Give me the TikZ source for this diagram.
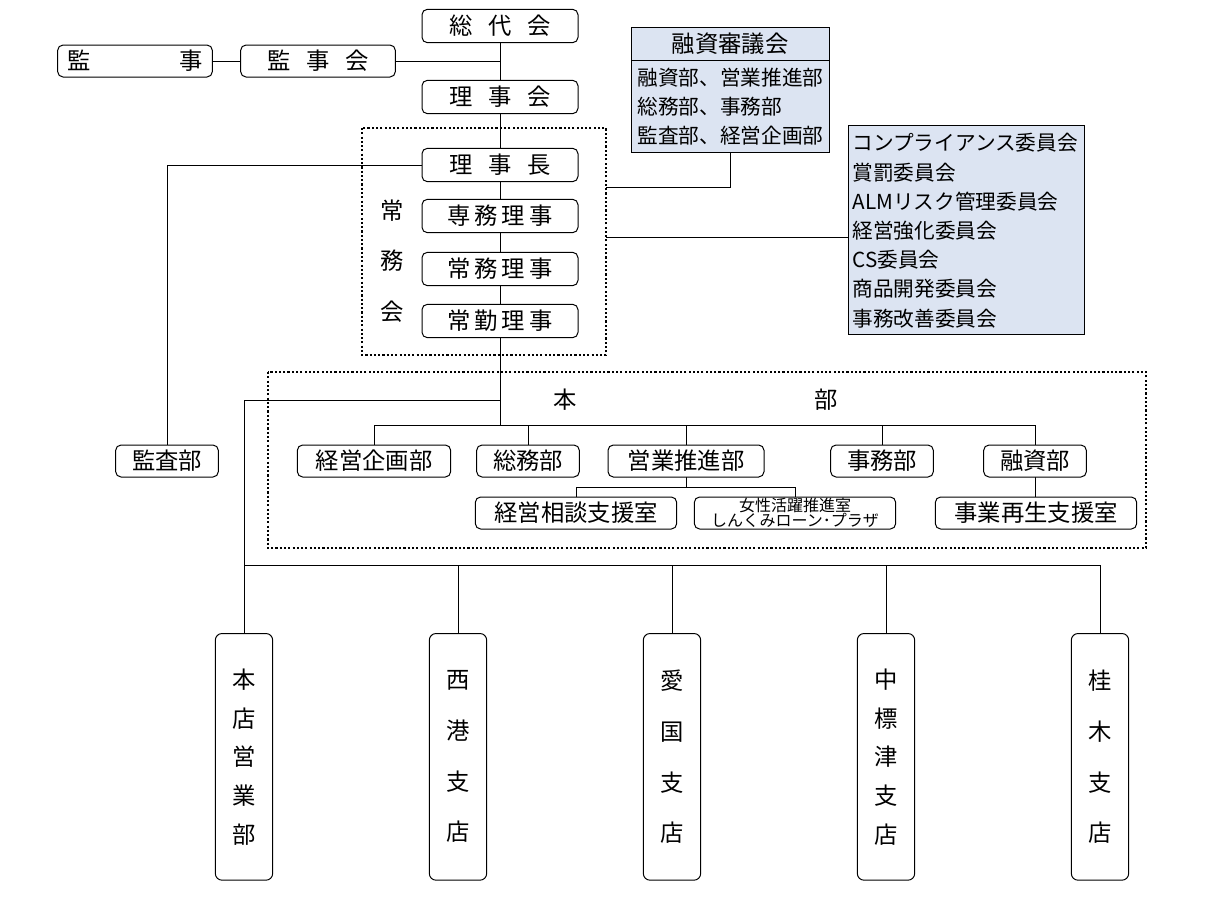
\documentclass[tikz,border=0pt]{standalone}
\usepackage{fontspec}
\setmainfont{Noto Sans CJK JP}
\tikzset{every picture/.style={line width=0.75pt}}
\tikzset{
  post/.style={draw,rounded corners=4pt,minimum height=25pt,inner sep=0pt,font=\fontsize{17.5}{19}\selectfont},
  dept/.style={post,minimum height=24pt},
  branch/.style={draw,rounded corners=5pt,minimum width=43pt,minimum height=185pt,inner sep=0pt,font=\fontsize{17.5}{29}\selectfont,align=center},
  frame/.style={draw,line width=2.2pt,dash pattern=on 1.6pt off 1.6pt},
  panel/.style={draw,fill={rgb,255:red,220;green,228;blue,242}},
  listtext/.style={anchor=west,inner sep=0pt,font=\fontsize{15.5}{17}\selectfont},
}
\begin{document}
\begin{tikzpicture}[x=0.75pt,y=0.75pt,yscale=-1,xscale=1]
	\useasboundingbox (0,0) rectangle (1229,901);

	% Frames
	\draw [frame] (362,128) rectangle (606,355);
	\draw [frame] (268,372) rectangle (1146,548);

	% Lines behind boxes
	\draw (500,26) -- (500,425);
	\draw (395,61) -- (500,61);
	\draw (213,61) -- (240,61);
	\draw (500,400) -- (244,400) -- (244,633);
	\draw (422,165) -- (167,165) -- (167,445);
	\draw (606,187) -- (730,187) -- (730,152);
	\draw (606,237) -- (848,237);
	\draw (374,445) -- (374,425) -- (1035,425) -- (1035,445);
	\foreach \x in {528,686,882} \draw (\x,425) -- (\x,445);
	\draw (686,477) -- (686,487);
	\draw (576,497) -- (576,487) -- (795,487) -- (795,497);
	\draw (1035,477) -- (1035,497);
	\draw (244,565) -- (1100,565);
	\foreach \x in {458,672,886,1100} \draw (\x,565) -- (\x,633);

	% Top posts
	\node [post,fill=white,minimum width=117pt] (sodaikai) at (500,26) {総\hspace{12pt}代\hspace{12pt}会};
	\node [post,fill=white,minimum width=116pt,minimum height=24pt] (kanji) at (135,61) {監\hspace{66pt}事};
	\node [post,fill=white,minimum width=116pt,minimum height=24pt] (kanjikai) at (318,61) {監\hspace{12pt}事\hspace{12pt}会};
	\node [post,fill=white,minimum width=117pt] (rijikai) at (500,97) {理\hspace{12pt}事\hspace{12pt}会};
	\node [post,fill=white,minimum width=117pt] (rijicho) at (500,165) {理\hspace{12pt}事\hspace{12pt}長};
	\node [post,fill=white,minimum width=117pt] (senmu) at (500,216) {専\hspace{3pt}務\hspace{3pt}理\hspace{3pt}事};
	\node [post,fill=white,minimum width=117pt] (jomu) at (500,269) {常\hspace{3pt}務\hspace{3pt}理\hspace{3pt}事};
	\node [post,fill=white,minimum width=117pt] (jokin) at (500,321) {常\hspace{3pt}勤\hspace{3pt}理\hspace{3pt}事};
	\node [font=\fontsize{17.5}{38}\selectfont,align=center] (jomukai) at (392,261) {常\\務\\会};

	% Yushi shingikai
	\draw [panel] (631,27) rectangle (829,152);
	\draw (631,60) -- (829,60);
	\node [font=\fontsize{17.5}{19}\selectfont] (shingi) at (730,44) {融資審議会};
	\node [listtext] (shingia) at (637,78) {融資部、営業推進部};
	\node [listtext] (shingib) at (637,107) {総務部、事務部};
	\node [listtext] (shingic) at (637,136) {監査部、経営企画部};

	% Committees
	\draw [panel] (848,125) rectangle (1084,334);
	\foreach \t [count=\i from 0] in {コンプライアンス委員会,賞罰委員会,ALMリスク管理委員会,経営強化委員会,CS委員会,商品開発委員会,事務改善委員会}
		\node [listtext] (iin\i) at (852,143+29.2*\i) {\t};

	% Honbu
	\node [font=\fontsize{17.5}{19}\selectfont] (hon) at (565,400) {本};
	\node [font=\fontsize{17.5}{19}\selectfont] (bu) at (826,400) {部};
	\node [dept,minimum width=77pt] (kansa) at (167,461) {監査部};
	\node [dept,fill=white,minimum width=115pt] (kikaku) at (374,461) {経営企画部};
	\node [dept,fill=white,minimum width=77pt] (somu) at (528,461) {総務部};
	\node [dept,fill=white,minimum width=117pt] (eigyo) at (686,461) {営業推進部};
	\node [dept,fill=white,minimum width=77pt] (jimu) at (882,461) {事務部};
	\node [dept,fill=white,minimum width=77pt] (yushi) at (1035,461) {融資部};
	\node [dept,fill=white,minimum width=151pt] (sodan) at (576,513) {経営相談支援室};
	\node [dept,fill=white,minimum width=151pt,align=center,font=\fontsize{12}{11.5}\selectfont] (josei) at (795,513) {女性活躍推進室\\しんくみローン･プラザ};
	\node [dept,fill=white,minimum width=151pt] (saisei) at (1036,513) {事業再生支援室};

	% Branches
	\node [branch,anchor=north] (honten) at (244,633) {本\\店\\営\\業\\部};
	\node [branch,anchor=north,font=\fontsize{17.5}{38}\selectfont] (saiko) at (458,633) {西\\港\\支\\店};
	\node [branch,anchor=north,font=\fontsize{17.5}{38}\selectfont] (aikoku) at (672,633) {愛\\国\\支\\店};
	\node [branch,anchor=north] (nakashime) at (886,633) {中\\標\\津\\支\\店};
	\node [branch,anchor=north,font=\fontsize{17.5}{38}\selectfont] (katsuragi) at (1100,633) {桂\\木\\支\\店};

	\end{tikzpicture}
\end{document}
